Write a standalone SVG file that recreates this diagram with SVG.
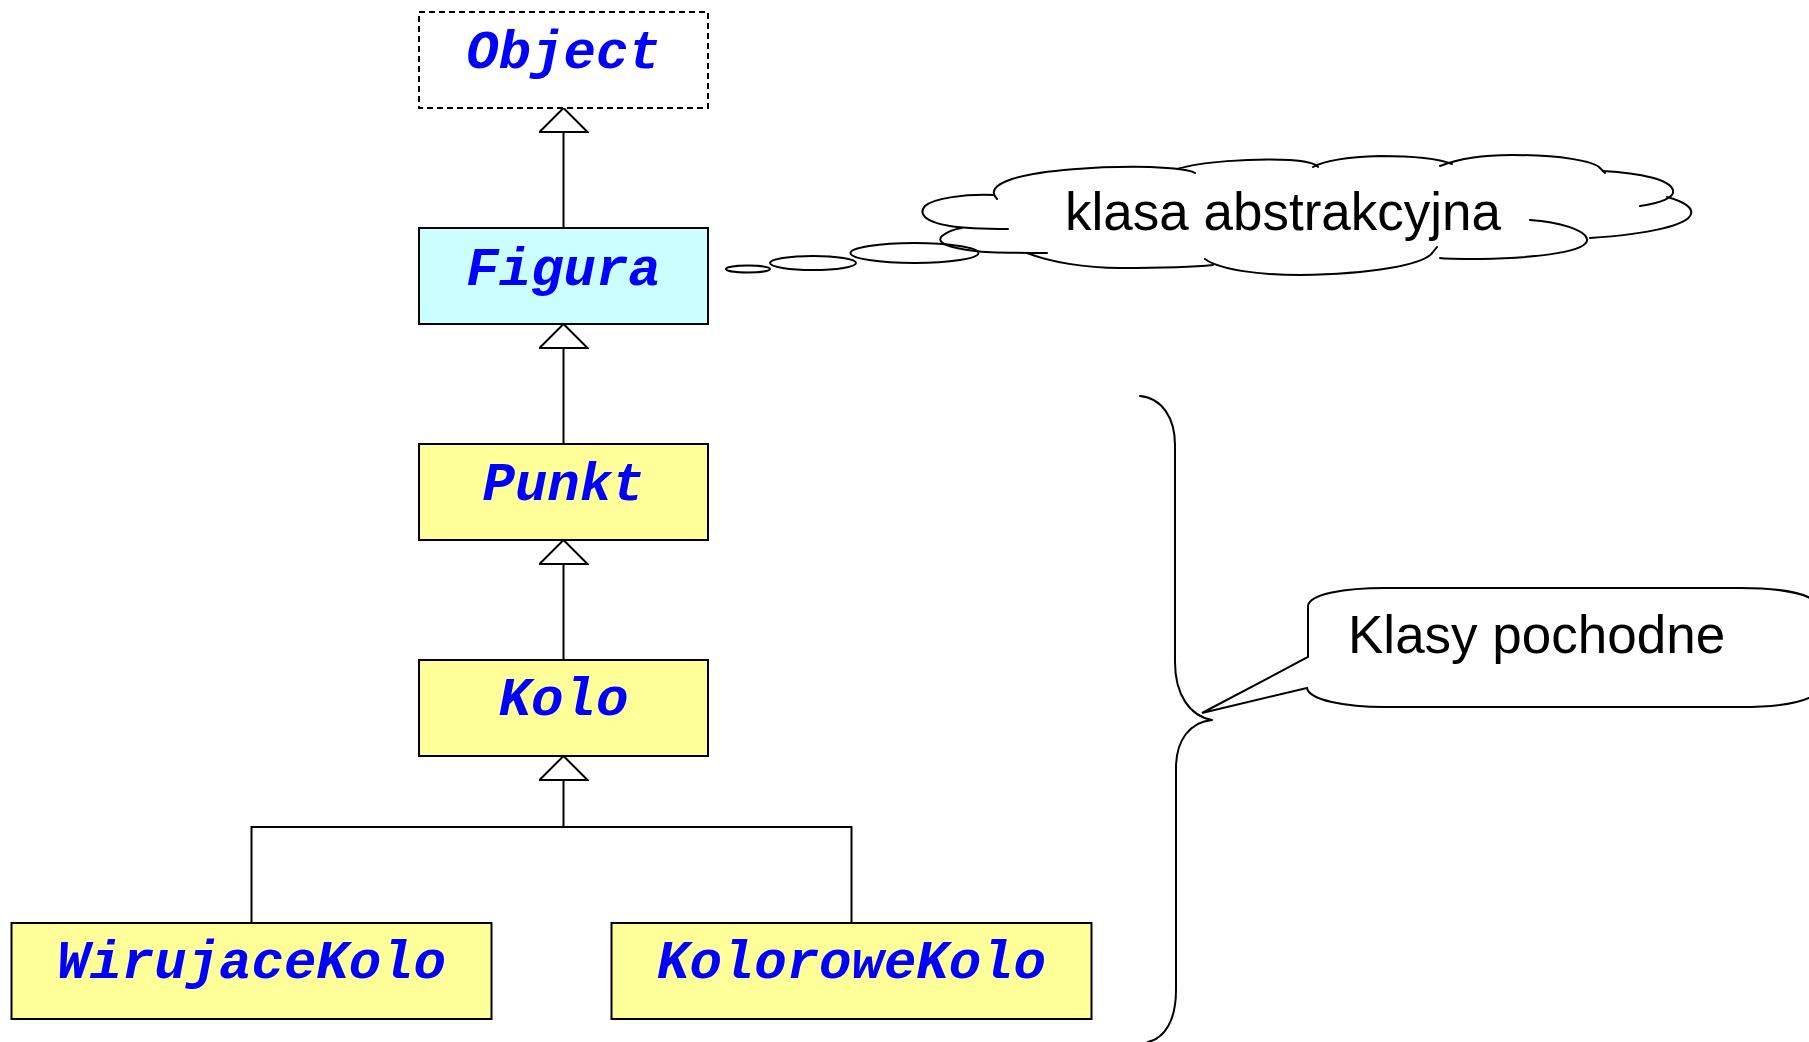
<svg xmlns="http://www.w3.org/2000/svg" width="1809" height="1042" viewBox="0 0 1809 1042">
  <style>
    .cls { stroke: #000; stroke-width: 2; }
    .abstract { fill: #CCFFFF; }
    .concrete { fill: #FFFF99; }
    .root { fill: #FFFFFF; stroke-dasharray: 6 4; }
    .name { font-family: "Liberation Mono", "Courier New", monospace; font-weight: bold; font-style: italic; font-size: 54px; fill: #0000FF; text-anchor: middle; }
    .line { fill: none; stroke: #000; stroke-width: 2; }
    .note { font-family: "Liberation Sans", Arial, sans-serif; font-size: 53px; fill: #000; }
    .outline { fill: none; stroke: #000; stroke-width: 2; stroke-linejoin: round; stroke-linecap: round; }
  </style>
  <defs>
    <marker id="inherit" viewBox="0 0 50 26" refX="25" refY="1" markerWidth="50" markerHeight="26" markerUnits="userSpaceOnUse" orient="0">
      <path d="M25,1 L49,25 L1,25 Z" fill="#FFFFFF" stroke="#000" stroke-width="2"/>
    </marker>
  </defs>

  <rect width="1809" height="1042" fill="#FFFFFF"/>

  <!-- inheritance connectors -->
  <g id="connectors">
    <path class="line" d="M563.5,228 L563.5,108" marker-end="url(#inherit)"/>
    <path class="line" d="M563.5,444 L563.5,324" marker-end="url(#inherit)"/>
    <path class="line" d="M563.5,660 L563.5,540" marker-end="url(#inherit)"/>
    <path class="line" d="M251.5,923 L251.5,827 L851.5,827 L851.5,923"/>
    <path class="line" d="M563.5,827 L563.5,756" marker-end="url(#inherit)"/>
  </g>

  <g id="object">
    <rect class="cls root" x="419" y="12" width="289" height="96"/>
    <text class="name" x="563.5" y="68">Object</text>
  </g>

  <g id="figura">
    <rect class="cls abstract" x="419" y="228" width="289" height="96"/>
    <text class="name" x="563.5" y="285">Figura</text>
  </g>

  <g id="punkt">
    <rect class="cls concrete" x="419" y="444" width="289" height="96"/>
    <text class="name" x="563.5" y="500">Punkt</text>
  </g>

  <g id="kolo">
    <rect class="cls concrete" x="419" y="660" width="289" height="96"/>
    <text class="name" x="563.5" y="715">Kolo</text>
  </g>

  <g id="wirujace-kolo">
    <rect class="cls concrete" x="11.5" y="923" width="480" height="96"/>
    <text class="name" x="251.5" y="978">WirujaceKolo</text>
  </g>

  <g id="kolorowe-kolo">
    <rect class="cls concrete" x="611.5" y="923" width="480" height="96"/>
    <text class="name" x="851.5" y="978">KoloroweKolo</text>
  </g>

  <!-- thought cloud: abstract class note -->
  <g id="cloud-note">
    <ellipse class="outline" cx="748" cy="269" rx="22" ry="3.5"/>
    <ellipse class="outline" cx="813" cy="263" rx="43" ry="7"/>
    <ellipse class="outline" cx="914.5" cy="253" rx="64" ry="10"/>
    <path class="outline" d="M1008,229 C985,229 962,228 950,226 C925,222 918,214 925,206 C934,198 965,194 993,195"/>
    <path class="outline" d="M997,199 C990,192 994,185 1012,179 C1040,170 1100,166 1150,167 C1175,168 1190,170 1195,173"/>
    <path class="outline" d="M1177,169 C1200,162 1250,158 1290,160 C1305,161 1315,163 1318,167"/>
    <path class="outline" d="M1313,167 C1325,160 1350,157 1380,156 C1410,156 1437,158 1452,164"/>
    <path class="outline" d="M1440,166 C1460,158 1482,155 1512,155 C1560,155 1594,161 1600,168 L1605,173"/>
    <path class="outline" d="M1603,171 C1642,173 1670,180 1673,190 C1675,198 1660,203 1640,206"/>
    <path class="outline" d="M1667,197 C1685,202 1693,208 1691,214 C1688,225 1650,234 1590,238"/>
    <path class="outline" d="M1530,220 C1560,222 1585,230 1587,239 C1590,251 1540,258 1480,259 C1458,259 1445,259 1440,258"/>
    <path class="outline" d="M1205,259 C1220,270 1260,275 1300,275 C1370,274 1425,265 1433,252 L1437,247"/>
    <path class="outline" d="M1027,253 C1050,262 1085,268 1120,268 C1160,268 1195,267 1213,265"/>
    <path class="outline" d="M1047,253 C1020,253 990,253 975,251 C950,248 935,243 942,236 C947,232 955,229 962,228"/>
    <text class="note" x="1065" y="230">klasa abstrakcyjna</text>
  </g>

  <!-- brace grouping the derived classes -->
  <g id="brace">
    <path class="outline" d="M1140,396 C1162,398 1175,418 1175,445 L1175,662 C1175,695 1190,716 1212,720 C1190,722 1176,740 1176,768 L1176,990 C1176,1020 1165,1038 1148,1042"/>
  </g>

  <!-- callout: derived classes note -->
  <g id="callout-note">
    <path fill="#FFFFFF" stroke="#000" stroke-width="2" stroke-linejoin="miter" d="M1308,657 L1308,606 C1309,594 1345,588 1385,588 L1740,588 C1790,588 1818,596 1822,610 L1822,685 C1818,700 1790,707 1740,707 L1385,707 C1345,707 1309,700 1307,688 L1202,713 Z"/>
    <text class="note" x="1348" y="653">Klasy pochodne</text>
  </g>
</svg>
